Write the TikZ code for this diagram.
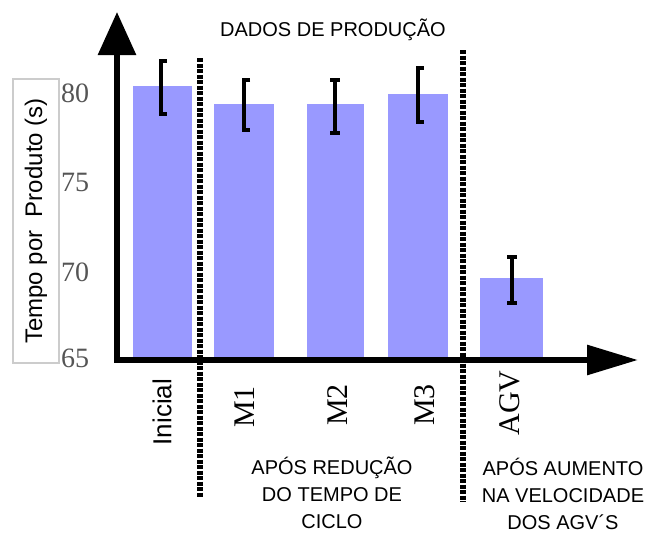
\documentclass[tikz,border=0pt]{standalone}
\usepackage{fontspec}
\setmainfont{Liberation Sans}
\newfontfamily\timesfont{Liberation Serif}
\usetikzlibrary{arrows.meta}
\definecolor{barblue}{RGB}{153,153,255}
\definecolor{tickgray}{RGB}{85,85,85}
\tikzset{
	MyBar/.style={fill=barblue,draw=none},
	MyErr/.style={line width=4.5pt,line join=miter},
	MyDiv/.style={line width=6.5pt,dash pattern=on 4pt off 1.5pt},
	MyAxis/.style={line width=6pt,line join=miter},
	MyNote/.style={font=\fontsize{20}{27}\selectfont,align=center,inner sep=0pt},
	MyTick/.style={font=\timesfont\fontsize{28}{28}\selectfont,text=tickgray,inner sep=0pt},
	MyCat/.style={rotate=90,font=\timesfont\fontsize{30}{30}\selectfont,inner sep=0pt}
		}
\begin{document}
\begin{tikzpicture}[x=1pt,y=-1pt]
	\useasboundingbox (0,0) rectangle (649,533);
	% bars: left / right / top (pixels)
	\foreach \xa/\xb/\top in {133/192/86,214/274/104,307/364/104,388/448/94,480/543/278}
		{\fill[MyBar] (\xa,358) rectangle (\xb,\top);}

	% error bars, bracket shaped
	\foreach \x/\ta/\tb in {161/61/114,244/80/130,418/68/122}
		{\draw[MyErr] (\x+6,\ta)--(\x,\ta)--(\x,\tb)--(\x+6,\tb);}
	% error bars, I shaped
	\foreach \x/\ta/\tb in {335/80/133,512/257/303}
		{\draw[MyErr] (\x-5,\ta)--(\x+5,\ta) (\x,\ta)--(\x,\tb) (\x-5,\tb)--(\x+5,\tb);}

	% axes
	\coordinate (O) at (117,360);
	\coordinate (ytip) at (117,12);
	\coordinate (xtip) at (638,360);
	\draw[MyAxis,{Triangle[length=43pt,width=37pt]}-{Triangle[length=51pt,width=29pt]}]
		(ytip)--(O)--(xtip);

	% dividers
	\coordinate (divAtop) at (200,58);
	\coordinate (divAbot) at (200,497);
	\coordinate (divBtop) at (463,50);
	\coordinate (divBbot) at (463,502);
	\draw[MyDiv] (divAtop)--(divAbot);
	\draw[MyDiv] (divBtop)--(divBbot);

	% tick labels
	\foreach \v/\y in {80/93,75/182,70/272,65/358}
		{\node[MyTick] (tick\v) at (75,\y) {\v};}

	\node[draw=gray!40,line width=1.2pt,rotate=90,minimum width=284pt,
		minimum height=46pt,inner sep=0pt,font=\fontsize{24}{24}\selectfont]
		(ylabel) at (36,221) {Tempo por\ \ Produto (s)};

	% category labels
	\node[rotate=90,inner sep=0pt,font=\fontsize{26}{26}\selectfont] (catInicial) at (162,412) {Inicial};
	\node[MyCat] (catM1) at (245,407) {M1};
	\node[MyCat] (catM2) at (338,405) {M2};
	\node[MyCat] (catM3) at (425,405) {M3};
	\node[MyCat] (catAGV) at (510,403) {AGV};

	% notes
	\node[MyNote] (dados) at (333,30) {DADOS DE PRODUÇÃO};
	\node[MyNote] (reducao) at (332,493) {APÓS REDUÇÃO\\DO TEMPO DE\\CICLO};
	\node[MyNote] (aumento) at (563,494) {APÓS AUMENTO\\NA VELOCIDADE\\DOS AGV´S};
\end{tikzpicture}
\end{document}
